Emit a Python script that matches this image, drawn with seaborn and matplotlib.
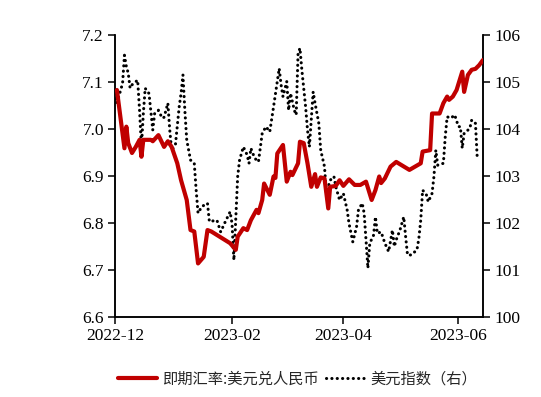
import matplotlib
matplotlib.use("Agg")
import matplotlib.pyplot as plt
import matplotlib.dates as mdates
import pandas as pd
import seaborn as sns

# ---- data ----
cny_dates = [
    "2022-12-02", "2022-12-06", "2022-12-07", "2022-12-08", "2022-12-10", "2022-12-12",
    "2022-12-14", "2022-12-15", "2022-12-16", "2022-12-20", "2022-12-21", "2022-12-24",
    "2022-12-27", "2022-12-29", "2022-12-31", "2023-01-03", "2023-01-05", "2023-01-08",
    "2023-01-10", "2023-01-12", "2023-01-14", "2023-01-17", "2023-01-19", "2023-01-21",
    "2023-01-31", "2023-02-03", "2023-02-04", "2023-02-07", "2023-02-09", "2023-02-11",
    "2023-02-14", "2023-02-15", "2023-02-17", "2023-02-18", "2023-02-21", "2023-02-23",
    "2023-02-24", "2023-02-25", "2023-02-28", "2023-03-02", "2023-03-04", "2023-03-05",
    "2023-03-08", "2023-03-09", "2023-03-11", "2023-03-13", "2023-03-15", "2023-03-17",
    "2023-03-18", "2023-03-20", "2023-03-22", "2023-03-24", "2023-03-25", "2023-03-28",
    "2023-03-30", "2023-04-01", "2023-04-04", "2023-04-07", "2023-04-10", "2023-04-13",
    "2023-04-16", "2023-04-18", "2023-04-20", "2023-04-21", "2023-04-23", "2023-04-26",
    "2023-04-29", "2023-05-06", "2023-05-09", "2023-05-12", "2023-05-13", "2023-05-17",
    "2023-05-18", "2023-05-22", "2023-05-24", "2023-05-26", "2023-05-27", "2023-05-29",
    "2023-05-31", "2023-06-03", "2023-06-04", "2023-06-06", "2023-06-08", "2023-06-10",
    "2023-06-12", "2023-06-14",
]
cny_values = [
    7.083, 6.959, 7.005, 6.970, 6.949, 6.962,
    6.977, 6.941, 6.977, 6.977, 6.974, 6.987,
    6.962, 6.974, 6.962, 6.927, 6.891, 6.849,
    6.785, 6.782, 6.714, 6.728, 6.785, 6.782,
    6.757, 6.743, 6.771, 6.789, 6.785, 6.806,
    6.828, 6.821, 6.849, 6.884, 6.860, 6.899,
    6.896, 6.948, 6.966, 6.888, 6.909, 6.902,
    6.927, 6.973, 6.970, 6.927, 6.877, 6.904,
    6.877, 6.897, 6.895, 6.831, 6.877, 6.879,
    6.891, 6.879, 6.893, 6.881, 6.881, 6.888,
    6.849, 6.870, 6.899, 6.885, 6.895, 6.920,
    6.930, 6.913, 6.920, 6.927, 6.952, 6.955,
    7.033, 7.033, 7.055, 7.069, 7.062, 7.069,
    7.083, 7.122, 7.079, 7.115, 7.126, 7.128,
    7.136, 7.147,
]

dxy_dates = [
    "2022-12-01", "2022-12-02", "2022-12-05", "2022-12-06", "2022-12-07", "2022-12-08",
    "2022-12-09", "2022-12-10", "2022-12-13", "2022-12-14", "2022-12-15", "2022-12-16",
    "2022-12-17", "2022-12-18", "2022-12-19", "2022-12-21", "2022-12-22", "2022-12-24",
    "2022-12-26", "2022-12-27", "2022-12-29", "2022-12-30", "2022-12-31", "2023-01-02",
    "2023-01-04", "2023-01-05", "2023-01-06", "2023-01-07", "2023-01-08", "2023-01-10",
    "2023-01-12", "2023-01-13", "2023-01-14", "2023-01-16", "2023-01-19", "2023-01-20",
    "2023-01-24", "2023-01-26", "2023-01-28", "2023-01-31", "2023-02-01", "2023-02-02",
    "2023-02-04", "2023-02-05", "2023-02-07", "2023-02-09", "2023-02-10", "2023-02-11",
    "2023-02-13", "2023-02-15", "2023-02-17", "2023-02-19", "2023-02-21", "2023-02-23",
    "2023-02-26", "2023-02-27", "2023-02-28", "2023-03-02", "2023-03-03", "2023-03-04",
    "2023-03-06", "2023-03-07", "2023-03-08", "2023-03-09", "2023-03-10", "2023-03-12",
    "2023-03-13", "2023-03-14", "2023-03-16", "2023-03-17", "2023-03-19", "2023-03-20",
    "2023-03-22", "2023-03-23", "2023-03-25", "2023-03-27", "2023-03-28", "2023-03-30",
    "2023-04-01", "2023-04-03", "2023-04-04", "2023-04-06", "2023-04-08", "2023-04-09",
    "2023-04-11", "2023-04-12", "2023-04-13", "2023-04-14", "2023-04-15", "2023-04-17",
    "2023-04-18", "2023-04-19", "2023-04-21", "2023-04-23", "2023-04-25", "2023-04-27",
    "2023-04-28", "2023-04-29", "2023-05-01", "2023-05-03", "2023-05-04", "2023-05-05",
    "2023-05-07", "2023-05-10", "2023-05-11", "2023-05-12", "2023-05-13", "2023-05-15",
    "2023-05-16", "2023-05-18", "2023-05-19", "2023-05-20", "2023-05-21", "2023-05-24",
    "2023-05-25", "2023-05-26", "2023-05-28", "2023-05-30", "2023-06-01", "2023-06-02",
    "2023-06-03", "2023-06-04", "2023-06-07", "2023-06-08", "2023-06-10", "2023-06-11",
]
dxy_values = [
    104.76, 104.55, 104.97, 105.57, 105.33, 105.19,
    104.87, 104.94, 105.04, 104.40, 103.62, 104.33,
    104.87, 104.79, 104.76, 103.98, 104.33, 104.40,
    104.23, 104.25, 104.55, 103.98, 103.55, 103.66,
    104.47, 104.76, 105.15, 104.40, 103.77, 103.34,
    103.27, 102.70, 102.21, 102.35, 102.42, 102.03,
    102.06, 101.81, 101.99, 102.24, 101.99, 101.21,
    102.99, 103.34, 103.62, 103.45, 103.27, 103.59,
    103.38, 103.30, 103.91, 104.05, 103.94, 104.47,
    105.29, 104.94, 104.69, 105.01, 104.40, 104.76,
    104.40, 104.30, 105.61, 105.72, 105.26, 104.47,
    103.98, 103.62, 104.79, 104.55, 104.12, 103.55,
    103.20, 102.63, 102.91, 102.99, 102.77, 102.49,
    102.63, 102.28, 101.99, 101.60, 101.92, 102.28,
    102.42, 102.21, 101.64, 101.04, 101.57, 101.74,
    102.13, 101.78, 101.81, 101.57, 101.39, 101.85,
    101.50, 101.64, 101.85, 102.13, 101.71, 101.32,
    101.32, 101.43, 101.67, 102.06, 102.70, 102.60,
    102.45, 102.63, 102.99, 103.55, 103.23, 103.27,
    103.84, 104.26, 104.23, 104.30, 104.05, 104.05,
    103.59, 103.91, 104.01, 104.19, 104.12, 103.34,
]

cny_label = "即期汇率:美元兑人民币"
dxy_label = "美元指数（右）"
x_ticks = ["2022-12-01", "2023-02-01", "2023-04-01", "2023-06-01"]
left_ticks = [6.6, 6.7, 6.8, 6.9, 7.0, 7.1, 7.2]
right_ticks = [100, 101, 102, 103, 104, 105, 106]

# ---- figure ----
sns.set_theme(style="ticks")
plt.rcParams["font.family"] = ["Liberation Serif", "DejaVu Serif"]

fig = plt.figure(figsize=(5.41, 3.97), dpi=100)
ax = fig.add_axes([0.2126, 0.2015, 0.6802, 0.7103])

cny = pd.DataFrame({"date": pd.to_datetime(cny_dates), "value": cny_values})
dxy = pd.DataFrame({"date": pd.to_datetime(dxy_dates), "value": dxy_values})

sns.lineplot(data=cny, x="date", y="value", ax=ax, color="#C00000",
             linewidth=3.0, estimator=None, legend=False, zorder=3)
ax2 = ax.twinx()
sns.lineplot(data=dxy, x="date", y="value", ax=ax2, color="black",
             linewidth=2.2, linestyle=(0, (0.05, 1.7)), dash_capstyle="round",
             estimator=None, legend=False)
ax.set_zorder(ax2.get_zorder() + 1)
ax.patch.set_visible(False)

ax.set_xlim(pd.Timestamp("2022-12-01"), pd.Timestamp("2023-06-14"))
ax.set_ylim(6.6, 7.2)
ax2.set_ylim(100, 106)
ax.set_xticks(pd.to_datetime(x_ticks))
ax.xaxis.set_major_formatter(mdates.DateFormatter("%Y-%m"))
ax.set_yticks(left_ticks)
ax.set_yticklabels([f"{v:.1f}" for v in left_ticks])
ax2.set_yticks(right_ticks)
ax2.set_yticklabels([str(v) for v in right_ticks])
ax.set_xlabel("")
ax.set_ylabel("")
ax2.set_ylabel("")

for a in (ax, ax2):
    a.spines["top"].set_visible(False)
    for s in ("left", "right", "bottom"):
        a.spines[s].set_color("black")
        a.spines[s].set_linewidth(1.1)
    a.tick_params(axis="both", direction="out", length=5, width=1.1,
                  colors="black", labelsize=12.5, pad=3)
    a.grid(False)

h1 = ax.lines[0]
h2 = ax2.lines[0]
leg = fig.legend([h1, h2], [cny_label, dxy_label], loc="center",
                 bbox_to_anchor=(0.55, 0.045), ncol=2, frameon=False,
                 handlelength=2.6, handletextpad=0.3, columnspacing=0.5,
                 prop={"family": ["Noto Sans CJK SC", "DejaVu Sans"], "size": 11})

fig.savefig("out.png", dpi=100)
